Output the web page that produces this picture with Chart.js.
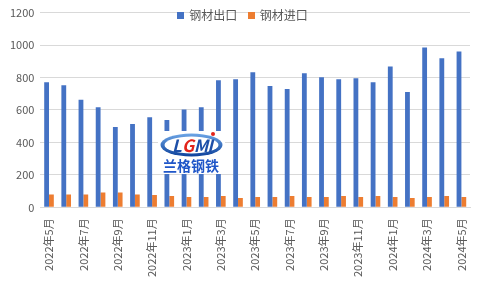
<!DOCTYPE html>
<html>
<head>
<meta charset="utf-8">
<script src="https://cdn.jsdelivr.net/npm/chart.js"></script>
<style>
  html, body { margin: 0; padding: 0; background: #fff; }
  #wrap { position: relative; width: 485px; height: 288px; }
  .legend {
    position: absolute; top: 7px; left: 0; width: 485px; text-align: center;
    font: 12px "Noto Sans CJK SC", sans-serif; color: #595959; line-height: 16px;
  }
  .legend span { display: inline-block; margin: 0 4px; }
  .legend i { display: inline-block; width: 7px; height: 7px; margin-right: 5px; vertical-align: 1px; }
</style>
</head>
<body>
<div id="wrap">
  <canvas id="chart" width="485" height="288"></canvas>
  <div class="legend">
    <span><i style="background:#4472c4"></i>钢材出口</span>
    <span><i style="background:#ed7d31"></i>钢材进口</span>
  </div>
</div>
<script>
const months = [
  "2022年5月", "2022年6月", "2022年7月", "2022年8月", "2022年9月", "2022年10月",
  "2022年11月", "2022年12月", "2023年1月", "2023年2月", "2023年3月", "2023年4月",
  "2023年5月", "2023年6月", "2023年7月", "2023年8月", "2023年9月", "2023年10月",
  "2023年11月", "2023年12月", "2024年1月", "2024年2月", "2024年3月", "2024年4月",
  "2024年5月"
];
const exportValues = [771, 753, 663, 617, 495, 513, 555, 538, 603, 617, 783, 789,
                      832, 748, 730, 826, 802, 790, 796, 771, 868, 711, 985, 918, 960];
const importValues = [80, 80, 80, 92, 92, 80, 76, 70, 64, 64, 70, 58,
                      64, 64, 70, 64, 64, 70, 64, 70, 64, 58, 64, 70, 64];
const yTicks = [0, 200, 400, 600, 800, 1000, 1200];

const FONT = '"Noto Sans CJK SC", sans-serif';

// watermark logo drawn over the bars
const logoPlugin = {
  id: "logo",
  afterDatasetsDraw(chart) {
    const c = chart.ctx;
    c.save();
    c.fillStyle = "#fff";
    c.fillRect(158, 131, 67, 43);
    const g = c.createLinearGradient(0, 133, 0, 157);
    g.addColorStop(0, "#6fa8e8");
    g.addColorStop(1, "#0b3f9a");
    c.beginPath();
    c.ellipse(191.5, 145, 31, 11.5, 0, 0, Math.PI * 2);
    c.fillStyle = g;
    c.fill();
    c.beginPath();
    c.ellipse(191.5, 145, 27, 8.5, 0, 0, Math.PI * 2);
    c.fillStyle = "#fff";
    c.fill();
    c.font = "italic bold 17px " + FONT;
    c.textAlign = "center";
    c.textBaseline = "middle";
    c.fillStyle = "#1d4fa8";
    c.fillText("L", 177, 146);
    c.fillStyle = "#e2231a";
    c.fillText("G", 188, 146);
    c.fillStyle = "#1d4fa8";
    c.fillText("M", 201, 146);
    c.fillText("I", 210, 146);
    c.fillStyle = "#e2231a";
    c.beginPath();
    c.arc(213, 134, 2, 0, Math.PI * 2);
    c.fill();
    c.font = "bold 14px " + FONT;
    c.fillStyle = "#1f56c8";
    c.fillText("兰格钢铁", 191, 166);
    c.restore();
  }
};

new Chart(document.getElementById("chart"), {
  type: "bar",
  data: {
    labels: months,
    datasets: [
      { label: "钢材出口", data: exportValues, backgroundColor: "#4472c4",
        categoryPercentage: 0.56, barPercentage: 1 },
      { label: "钢材进口", data: importValues, backgroundColor: "#ed7d31",
        categoryPercentage: 0.56, barPercentage: 1 }
    ]
  },
  options: {
    responsive: false,
    animation: false,
    layout: { padding: { top: -2, right: 15, bottom: 8, left: 4 } },
    plugins: { legend: { display: false }, tooltip: { enabled: false } },
    scales: {
      x: {
        grid: { display: false },
        border: { color: "#d9d9d9" },
        ticks: {
          autoSkip: false, minRotation: 90, maxRotation: 90,
          color: "#595959", font: { family: FONT, size: 11 },
          callback: (v, i) => (i % 2 === 0 ? months[i] : "")
        }
      },
      y: {
        min: 0, max: 1200,
        afterBuildTicks: (axis) => { axis.ticks = yTicks.map(v => ({ value: v })); },
        grid: { color: "#d9d9d9", drawTicks: false },
        border: { display: false },
        ticks: {
          color: "#595959", font: { family: FONT, size: 11 }, padding: 6,
          callback: (v) => String(v)
        }
      }
    }
  },
  plugins: [logoPlugin]
});
</script>
</body>
</html>
